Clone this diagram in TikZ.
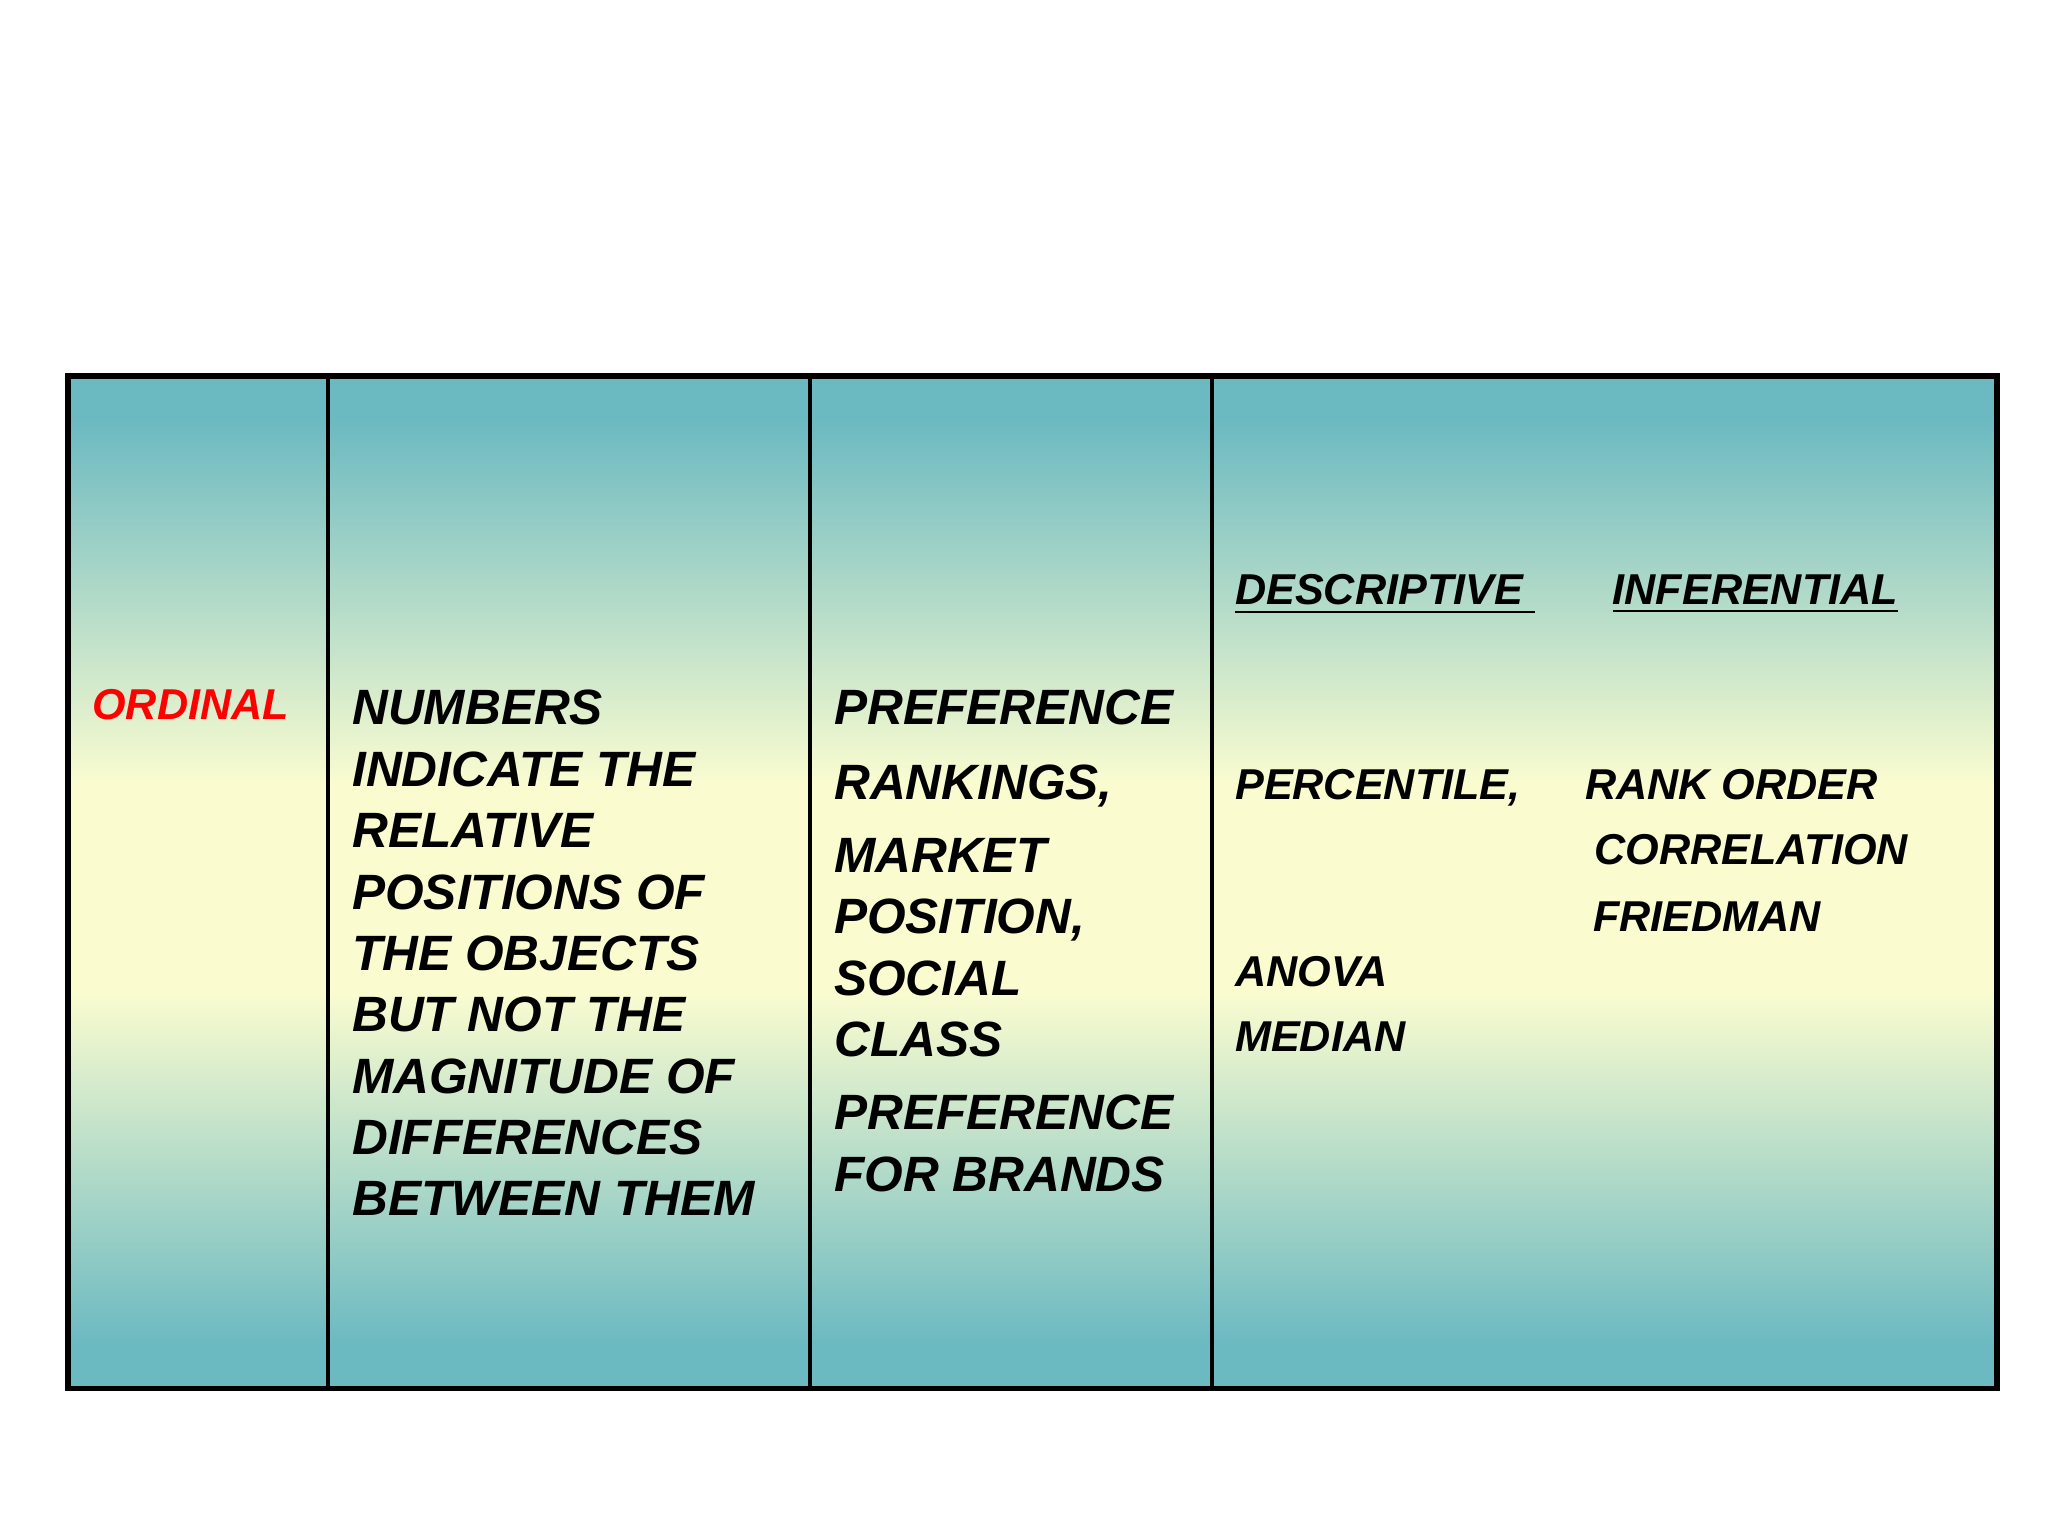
\documentclass[tikz,border=0pt]{standalone}
\usepackage{fontspec}
\setmainfont{Liberation Sans}
\begin{document}
\begin{tikzpicture}[x=0.01cm,y=-0.01cm,
  big/.style={anchor=base west,inner sep=0pt,font=\fontsize{10.8}{13}\selectfont\bfseries\itshape},
  small/.style={anchor=base west,inner sep=0pt,font=\fontsize{9.4}{11}\selectfont\bfseries\itshape}]
\definecolor{teal}{HTML}{6BB9C1}
\definecolor{pale}{HTML}{FAFCD0}
\useasboundingbox (0,0) rectangle (1568,1176);
\fill[white] (0,0) rectangle (1568,1176);
\shade[top color=teal,bottom color=pale] (52,288) rectangle (1529,676);
\shade[top color=pale,bottom color=teal] (52,676) rectangle (1529,1063);
\fill[teal] (52,288) rectangle (1529,320);
\fill[teal] (52,1030) rectangle (1529,1063);
\shade[top color=teal,bottom color=pale] (52,320) rectangle (1529,600);
\shade[top color=pale,bottom color=teal] (52,760) rectangle (1529,1030);
\fill[pale] (52,599) rectangle (1529,761);
\draw[line width=1.2pt] (52,288) rectangle (1529,1063);
\foreach \x in {251,620,928} \draw[line width=0.8pt] (\x,288) -- (\x,1063);
\node[small,text=red] (ord) at (70,551) {ORDINAL};
\foreach \t [count=\i] in {NUMBERS,INDICATE THE,RELATIVE,POSITIONS OF,THE OBJECTS,BUT NOT THE,MAGNITUDE OF,DIFFERENCES,BETWEEN THEM}
  \node[big] (d\i) at (269,555+47*\i-47) {\t};
\node[big] (e1) at (638,555) {PREFERENCE};
\node[big] (e2) at (638,612) {RANKINGS,};
\node[big] (e3) at (638,668) {MARKET};
\node[big] (e4) at (638,715) {POSITION,};
\node[big] (e5) at (638,762) {SOCIAL};
\node[big] (e6) at (638,809) {CLASS};
\node[big] (e7) at (638,865) {PREFERENCE};
\node[big] (e8) at (638,912) {FOR BRANDS};
\node[small] (s1) at (945,463) {\underline{DESCRIPTIVE\ }};
\node[small] (s2) at (1234,463) {\underline{INFERENTIAL}};
\node[small] (s3) at (945,612) {PERCENTILE,};
\node[small] (s4) at (1213,612) {RANK ORDER};
\node[small] (s5) at (1220,662) {CORRELATION};
\node[small] (s6) at (1219,713) {FRIEDMAN};
\node[small] (s7) at (945,755) {ANOVA};
\node[small] (s8) at (945,805) {MEDIAN};
\end{tikzpicture}
\end{document}
